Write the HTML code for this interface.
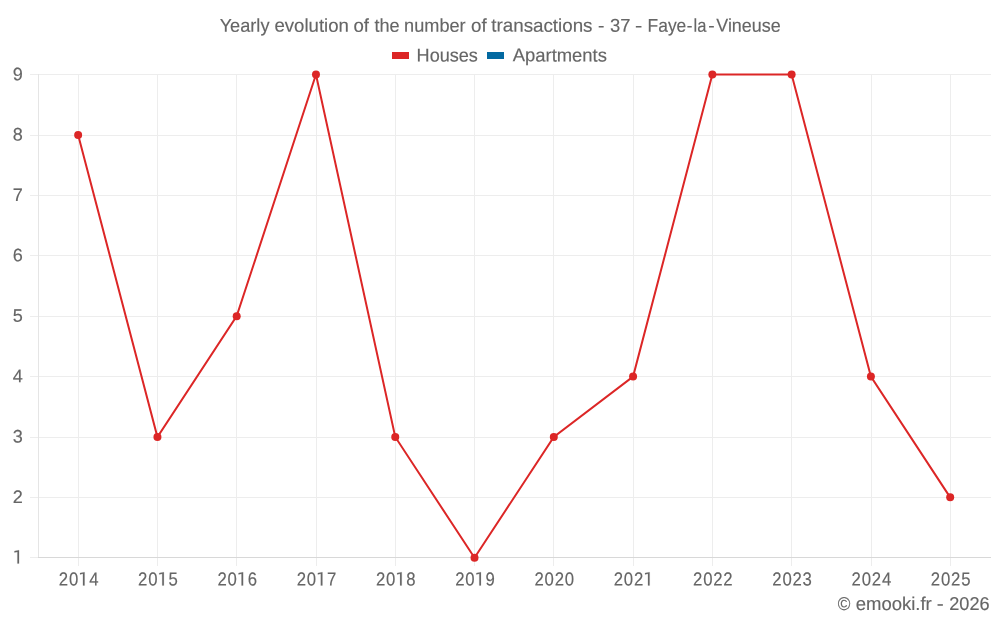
<!DOCTYPE html>
<html><head><meta charset="utf-8"><style>
html,body{margin:0;padding:0;background:#fff;overflow:hidden;}
svg{display:block;will-change:transform;}
text{font-family:"Liberation Sans", sans-serif;font-size:18.6px;fill:#666;stroke:#666;stroke-width:0.15px;}
.h{fill:none;stroke:none;}
</style></head><body>
<svg width="1000" height="625" viewBox="0 0 1000 625">
<rect width="1000" height="625" fill="#fff"/>
<g shape-rendering="crispEdges">
<line x1="78.5" y1="74" x2="78.5" y2="566" stroke="#ededed"/>
<line x1="157.5" y1="74" x2="157.5" y2="566" stroke="#ededed"/>
<line x1="236.5" y1="74" x2="236.5" y2="566" stroke="#ededed"/>
<line x1="316.5" y1="74" x2="316.5" y2="566" stroke="#ededed"/>
<line x1="395.5" y1="74" x2="395.5" y2="566" stroke="#ededed"/>
<line x1="474.5" y1="74" x2="474.5" y2="566" stroke="#ededed"/>
<line x1="553.5" y1="74" x2="553.5" y2="566" stroke="#ededed"/>
<line x1="633.5" y1="74" x2="633.5" y2="566" stroke="#ededed"/>
<line x1="712.5" y1="74" x2="712.5" y2="566" stroke="#ededed"/>
<line x1="791.5" y1="74" x2="791.5" y2="566" stroke="#ededed"/>
<line x1="871.5" y1="74" x2="871.5" y2="566" stroke="#ededed"/>
<line x1="950.5" y1="74" x2="950.5" y2="566" stroke="#ededed"/>
<line x1="30" y1="557.5" x2="991" y2="557.5" stroke="#ededed"/>
<line x1="30" y1="497.5" x2="991" y2="497.5" stroke="#ededed"/>
<line x1="30" y1="437.5" x2="991" y2="437.5" stroke="#ededed"/>
<line x1="30" y1="376.5" x2="991" y2="376.5" stroke="#ededed"/>
<line x1="30" y1="316.5" x2="991" y2="316.5" stroke="#ededed"/>
<line x1="30" y1="255.5" x2="991" y2="255.5" stroke="#ededed"/>
<line x1="30" y1="195.5" x2="991" y2="195.5" stroke="#ededed"/>
<line x1="30" y1="135.5" x2="991" y2="135.5" stroke="#ededed"/>
<line x1="30" y1="74.5" x2="991" y2="74.5" stroke="#ededed"/>
<line x1="38.5" y1="74" x2="38.5" y2="557" stroke="#e5e5e5"/>
<line x1="38" y1="557.5" x2="991" y2="557.5" stroke="#d8d8d8"/>
</g>
<text x="219.66" y="31.7" textLength="49.84" lengthAdjust="spacingAndGlyphs" transform="matrix(1 0.002 0 1 0 -0.4901)">Yearly</text>
<text x="274.49" y="31.7" textLength="74.35" lengthAdjust="spacingAndGlyphs" transform="matrix(1 0.002 0 1 0 -0.6229)">evolution</text>
<text x="353.51" y="31.7" textLength="15.53" lengthAdjust="spacingAndGlyphs" transform="matrix(1 0.002 0 1 0 -0.7233)">of</text>
<text x="374.41" y="31.7" textLength="25.19" lengthAdjust="spacingAndGlyphs" transform="matrix(1 0.002 0 1 0 -0.7734)">the</text>
<text x="404.11" y="31.7" textLength="61.49" lengthAdjust="spacingAndGlyphs" transform="matrix(1 0.002 0 1 0 -0.8706)">number</text>
<text x="471.00" y="31.7" textLength="15.64" lengthAdjust="spacingAndGlyphs" transform="matrix(1 0.002 0 1 0 -0.9584)">of</text>
<text x="491.30" y="31.7" textLength="101.22" lengthAdjust="spacingAndGlyphs" transform="matrix(1 0.002 0 1 0 -1.0835)">transactions</text>
<text x="598.09" y="31.7" textLength="6.40" lengthAdjust="spacingAndGlyphs" transform="matrix(1 0.002 0 1 0 -1.2030)">-</text>
<text x="610.01" y="31.7" textLength="20.51" lengthAdjust="spacingAndGlyphs" transform="matrix(1 0.002 0 1 0 -1.2405)">37</text>
<text x="635.13" y="31.7" textLength="7.28" lengthAdjust="spacingAndGlyphs" transform="matrix(1 0.002 0 1 0 -1.2780)">-</text>
<text x="647.57" y="31.7" textLength="38.72" lengthAdjust="spacingAndGlyphs" transform="matrix(1 0.002 0 1 0 -1.3344)">Faye</text>
<text x="686.83" y="31.7" textLength="5.68" lengthAdjust="spacingAndGlyphs" transform="matrix(1 0.002 0 1 0 -1.3797)">-</text>
<text x="693.54" y="31.7" textLength="12.89" lengthAdjust="spacingAndGlyphs" transform="matrix(1 0.002 0 1 0 -1.4012)">la</text>
<text x="708.19" y="31.7" textLength="6.40" lengthAdjust="spacingAndGlyphs" transform="matrix(1 0.002 0 1 0 -1.4232)">-</text>
<text x="716.27" y="31.7" textLength="64.42" lengthAdjust="spacingAndGlyphs" transform="matrix(1 0.002 0 1 0 -1.4964)">Vineuse</text>
<text x="416.61" y="61.45" textLength="61.30" lengthAdjust="spacingAndGlyphs" transform="matrix(1 0.002 0 1 0 -0.8953)">Houses</text>
<text x="512.73" y="61.45" textLength="94.22" lengthAdjust="spacingAndGlyphs" transform="matrix(1 0.002 0 1 0 -1.1192)">Apartments</text>
<text x="837.77" y="610.0" textLength="12.62" lengthAdjust="spacingAndGlyphs" transform="matrix(1 0.002 0 1 0 -1.6882)">©</text>
<text x="855.69" y="610.0" textLength="76.08" lengthAdjust="spacingAndGlyphs" transform="matrix(1 0.002 0 1 0 -1.7880)">emooki.fr</text>
<text x="936.88" y="610.0" textLength="6.99" lengthAdjust="spacingAndGlyphs" transform="matrix(1 0.002 0 1 0 -1.8812)">-</text>
<text x="949.22" y="610.0" textLength="40.36" lengthAdjust="spacingAndGlyphs" transform="matrix(1 0.002 0 1 0 -1.9390)">2026</text>
<rect x="392" y="52" width="17" height="7" fill="#dc2626"/>
<rect x="487" y="52" width="17" height="7" fill="#0369a1"/>
<text x="12.60" y="563.75" textLength="10.0" lengthAdjust="spacingAndGlyphs" class="h">1</text>
<path transform="translate(12.60 563.55)" d="M6.45 0V-13.3H6.1L1.85-12.45V-11.05L4.8-11.65V0Z" fill="#666" stroke="#666" stroke-width="0.15"/>
<text x="12.8" y="502.95" style="font-size:18.1px" transform="matrix(1 0.002 0 1 0 -0.0352)">2</text>
<text x="12.8" y="442.55" style="font-size:18.1px" transform="matrix(1 0.002 0 1 0 -0.0352)">3</text>
<text x="12.8" y="382.15" style="font-size:18.1px" transform="matrix(1 0.002 0 1 0 -0.0352)">4</text>
<text x="12.8" y="321.75" style="font-size:18.1px" transform="matrix(1 0.002 0 1 0 -0.0352)">5</text>
<text x="12.8" y="261.35" style="font-size:18.1px" transform="matrix(1 0.002 0 1 0 -0.0352)">6</text>
<text x="12.8" y="200.95" style="font-size:18.1px" transform="matrix(1 0.002 0 1 0 -0.0352)">7</text>
<text x="12.8" y="140.55" style="font-size:18.1px" transform="matrix(1 0.002 0 1 0 -0.0352)">8</text>
<text x="12.8" y="80.15" style="font-size:18.1px" transform="matrix(1 0.002 0 1 0 -0.0352)">9</text>
<text x="56.35 67.72 79.10 90.47" y="585.5" style="font-size:18.85px" transform="matrix(1 0.002 0 1 0 -0.1573) matrix(0.888 0 0 1 8.809 0)">20<tspan class="h">1</tspan>4</text>
<path transform="translate(78.15 585.50)" d="M6.45 0V-13.3H6.1L1.85-12.45V-11.05L4.8-11.65V0Z" fill="#666" stroke="#666" stroke-width="0.15"/>
<text x="135.62 147.00 158.37 169.74" y="585.5" style="font-size:18.85px" transform="matrix(1 0.002 0 1 0 -0.3159) matrix(0.888 0 0 1 17.688 0)">20<tspan class="h">1</tspan>5</text>
<path transform="translate(157.43 585.50)" d="M6.45 0V-13.3H6.1L1.85-12.45V-11.05L4.8-11.65V0Z" fill="#666" stroke="#666" stroke-width="0.15"/>
<text x="214.90 226.27 237.65 249.02" y="585.5" style="font-size:18.85px" transform="matrix(1 0.002 0 1 0 -0.4744) matrix(0.888 0 0 1 26.566 0)">20<tspan class="h">1</tspan>6</text>
<path transform="translate(236.70 585.50)" d="M6.45 0V-13.3H6.1L1.85-12.45V-11.05L4.8-11.65V0Z" fill="#666" stroke="#666" stroke-width="0.15"/>
<text x="294.17 305.55 316.92 328.29" y="585.5" style="font-size:18.85px" transform="matrix(1 0.002 0 1 0 -0.6330) matrix(0.888 0 0 1 35.445 0)">20<tspan class="h">1</tspan>7</text>
<path transform="translate(315.98 585.50)" d="M6.45 0V-13.3H6.1L1.85-12.45V-11.05L4.8-11.65V0Z" fill="#666" stroke="#666" stroke-width="0.15"/>
<text x="373.45 384.82 396.20 407.57" y="585.5" style="font-size:18.85px" transform="matrix(1 0.002 0 1 0 -0.7915) matrix(0.888 0 0 1 44.324 0)">20<tspan class="h">1</tspan>8</text>
<path transform="translate(395.25 585.50)" d="M6.45 0V-13.3H6.1L1.85-12.45V-11.05L4.8-11.65V0Z" fill="#666" stroke="#666" stroke-width="0.15"/>
<text x="452.72 464.10 475.47 486.84" y="585.5" style="font-size:18.85px" transform="matrix(1 0.002 0 1 0 -0.9500) matrix(0.888 0 0 1 53.203 0)">20<tspan class="h">1</tspan>9</text>
<path transform="translate(474.52 585.50)" d="M6.45 0V-13.3H6.1L1.85-12.45V-11.05L4.8-11.65V0Z" fill="#666" stroke="#666" stroke-width="0.15"/>
<text x="532.00 543.37 554.75 566.12" y="585.5" style="font-size:18.85px" transform="matrix(1 0.002 0 1 0 -1.1086) matrix(0.888 0 0 1 62.082 0)">2020</text>
<text x="611.27 622.65 634.02 645.39" y="585.5" style="font-size:18.85px" transform="matrix(1 0.002 0 1 0 -1.2672) matrix(0.888 0 0 1 70.960 0)">202<tspan class="h">1</tspan></text>
<path transform="translate(643.17 585.50)" d="M6.45 0V-13.3H6.1L1.85-12.45V-11.05L4.8-11.65V0Z" fill="#666" stroke="#666" stroke-width="0.15"/>
<text x="690.55 701.92 713.30 724.67" y="585.5" style="font-size:18.85px" transform="matrix(1 0.002 0 1 0 -1.4257) matrix(0.888 0 0 1 79.839 0)">2022</text>
<text x="769.82 781.20 792.57 803.94" y="585.5" style="font-size:18.85px" transform="matrix(1 0.002 0 1 0 -1.5842) matrix(0.888 0 0 1 88.718 0)">2023</text>
<text x="849.10 860.47 871.85 883.22" y="585.5" style="font-size:18.85px" transform="matrix(1 0.002 0 1 0 -1.7428) matrix(0.888 0 0 1 97.597 0)">2024</text>
<text x="928.37 939.75 951.12 962.49" y="585.5" style="font-size:18.85px" transform="matrix(1 0.002 0 1 0 -1.9014) matrix(0.888 0 0 1 106.476 0)">2025</text>
<polyline points="78.15,134.95 157.43,436.95 236.70,316.15 315.98,74.55 395.25,436.95 474.52,557.75 553.80,436.95 633.08,376.55 712.35,74.55 791.62,74.55 870.90,376.55 950.18,497.35" fill="none" stroke="#dc2626" stroke-width="2" stroke-linejoin="miter"/>
<circle cx="78.15" cy="134.95" r="4" fill="#dc2626"/>
<circle cx="157.43" cy="436.95" r="4" fill="#dc2626"/>
<circle cx="236.70" cy="316.15" r="4" fill="#dc2626"/>
<circle cx="315.98" cy="74.55" r="4" fill="#dc2626"/>
<circle cx="395.25" cy="436.95" r="4" fill="#dc2626"/>
<circle cx="474.52" cy="557.75" r="4" fill="#dc2626"/>
<circle cx="553.80" cy="436.95" r="4" fill="#dc2626"/>
<circle cx="633.08" cy="376.55" r="4" fill="#dc2626"/>
<circle cx="712.35" cy="74.55" r="4" fill="#dc2626"/>
<circle cx="791.62" cy="74.55" r="4" fill="#dc2626"/>
<circle cx="870.90" cy="376.55" r="4" fill="#dc2626"/>
<circle cx="950.18" cy="497.35" r="4" fill="#dc2626"/>
</svg>
</body></html>
